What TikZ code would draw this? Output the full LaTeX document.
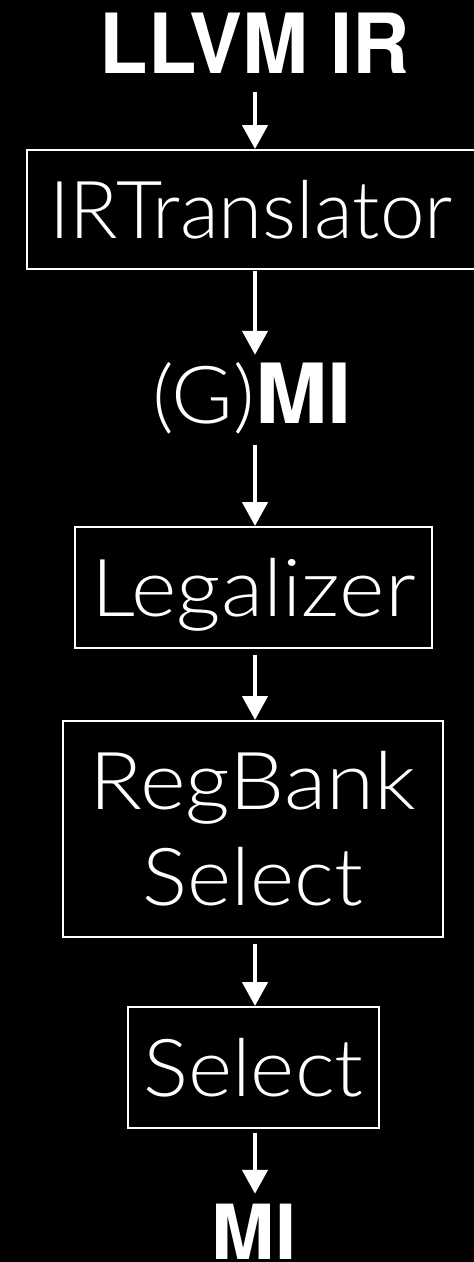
\documentclass[tikz,border=0pt]{standalone}
\usepackage{fontspec}
\usepackage{graphicx}
\usetikzlibrary{arrows.meta,calc}
\setmainfont{TeX Gyre Heros}
\IfFontExistsTF{Lato Light}
  {\newfontfamily\thinfont{Lato Light}}
  {\newfontfamily\thinfont{TeX Gyre Heros}}
\newcommand\passfont{\thinfont\fontsize{80}{96}\selectfont}
\newcommand\datafont{\fontsize{83}{96}\selectfont\bfseries}
% set a label to a given width, keeping its height
\newcommand\fitw[2]{\resizebox{#1}{\height}{#2}}

\tikzset{
  passbox/.style={draw=white, line width=2pt, inner sep=0pt, text=white,
    align=center, font=\passfont},
  datalabel/.style={inner sep=0pt, text=white, anchor=base},
  flow/.style={draw=white, line width=4.5pt,
    -{Triangle[length=24pt,width=25pt]}},
}

\begin{document}
\begin{tikzpicture}[x=1pt, y=-1pt]
  \clip (0,0) rectangle (474,1262);
  \fill[black] (0,0) rectangle (474,1262);
  \coordinate (spine) at (255,0);

  % stages of the pipeline, top to bottom
  \node[datalabel, font=\datafont] (llvm) at (255,73) {\fitw{310pt}{LLVM IR}};
  \node[passbox, minimum width=448pt, minimum height=119pt,
        text height=57pt, text depth=0pt] (irt) at (251,209.5)
        {\fitw{404pt}{IRTranslator}};
  \node[datalabel, text height=57pt, text depth=0pt] (gmi) at (252,423)
        {\fitw{200pt}{{\passfont (G)}{\datafont MI}}};
  \node[passbox, minimum width=357pt, minimum height=121pt,
        text height=57pt, text depth=0pt] (leg) at (253.5,587.5)
        {\fitw{324pt}{Legalizer}};
  \node[passbox, minimum width=380pt, minimum height=216pt] (rb) at (253,829)
        {\fitw{326pt}{RegBank}\\\fitw{220pt}{Select}};
  \node[passbox, minimum width=251pt, minimum height=121pt,
        text height=57pt, text depth=0pt] (sel) at (253.5,1067.5)
        {\fitw{220pt}{Select}};
  \node[datalabel, font=\fontsize{76}{96}\selectfont\bfseries,
        text height=55pt, text depth=0pt] (mi) at (254,1259) {MI};

  % flow between the stages
  \draw[flow, shorten <=19pt] (spine |- llvm.south) -- (spine |- irt.north);
  \draw[flow, shorten <=1pt, shorten >=11pt] (spine |- irt.south) -- (spine |- gmi.north);
  \draw[flow, shorten <=22pt] (spine |- gmi.south) -- (spine |- leg.north);
  \draw[flow, shorten <=6pt] (spine |- leg.south) -- (spine |- rb.north);
  \draw[flow, shorten <=6pt] (spine |- rb.south) -- (spine |- sel.north);
  \draw[flow, shorten <=4pt, shorten >=10pt] (spine |- sel.south) -- (spine |- mi.north);
\end{tikzpicture}
\end{document}
